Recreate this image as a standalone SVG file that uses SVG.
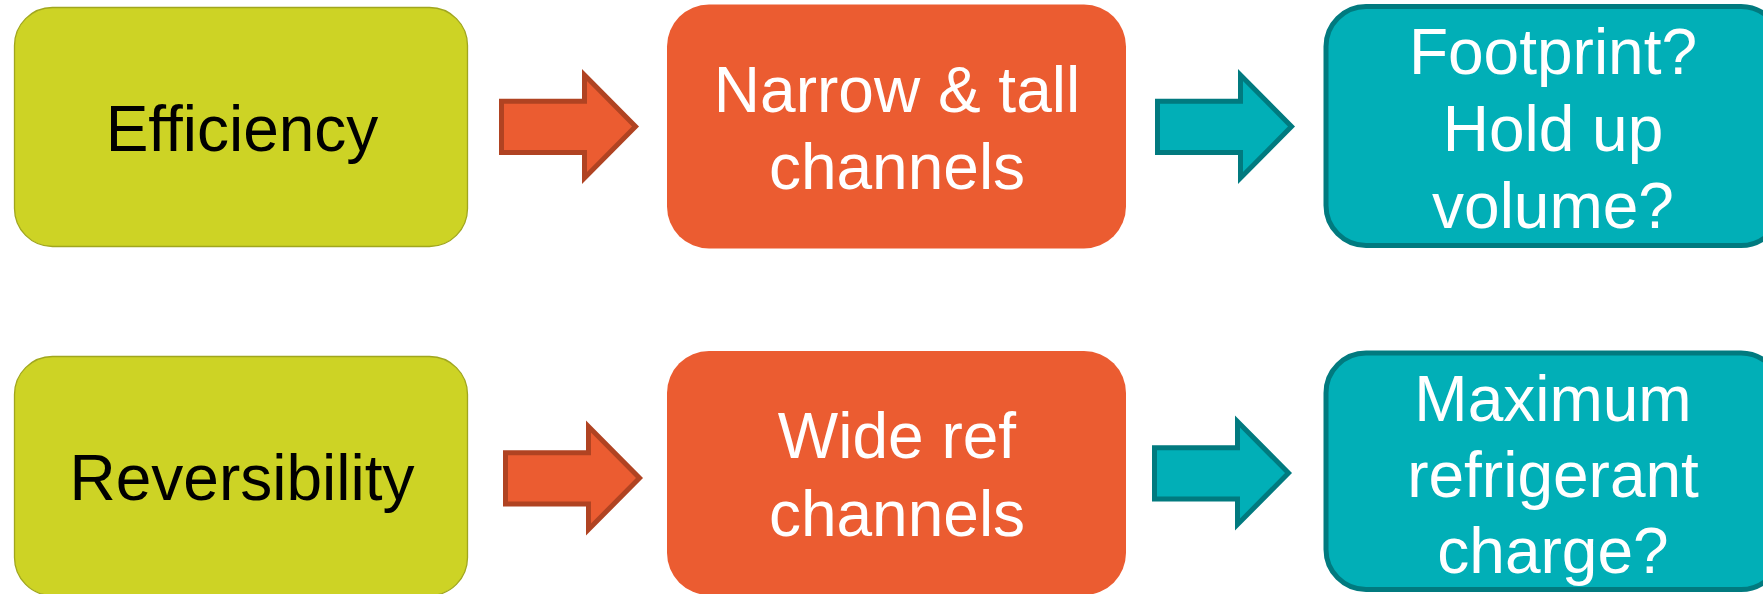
<svg xmlns="http://www.w3.org/2000/svg" width="1763" height="594" viewBox="0 0 1763 594">
<style>
text{font-family:"Liberation Sans",Arial,sans-serif;font-size:64px;text-anchor:middle}
.g{fill:#CDD325;stroke:#A0A61E;stroke-width:1.3}
.o{fill:#EB5C31}
.t{fill:#01AFB7;stroke:#017A7F;stroke-width:5}
.oa{fill:#EB5C31;stroke:#B04322;stroke-width:5;stroke-linejoin:miter}
.ta{fill:#01AFB7;stroke:#017A7F;stroke-width:5;stroke-linejoin:miter}
.dk{fill:#000}
.wt{fill:#fff}
</style>
<rect width="1763" height="594" fill="#fff"/>
<g id="connectors">
<path class="oa" d="M501.5,101.2 H584.5 V75 L635.5,126.5 L584.5,178 V152.5 H501.5 Z"/>
<path class="ta" transform="translate(656,0)" d="M501.5,101.2 H584.5 V75 L635.5,126.5 L584.5,178 V152.5 H501.5 Z"/>
<path class="oa" transform="translate(4,351.5)" d="M501.5,101.2 H584.5 V75 L635.5,126.5 L584.5,178 V152.5 H501.5 Z"/>
<path class="ta" transform="translate(653,346.5)" d="M501.5,101.2 H584.5 V75 L635.5,126.5 L584.5,178 V152.5 H501.5 Z"/>
</g>
<g id="efficiency">
<rect class="g" x="14.5" y="7.5" width="453" height="239" rx="38"/>
<text class="dk" x="242" y="150.5">Efficiency</text>
</g>
<g id="narrow">
<rect class="o" x="667" y="4.5" width="459" height="244" rx="42"/>
<text class="wt" x="897" y="112.3">Narrow &amp; tall</text>
<text class="wt" x="897" y="189">channels</text>
</g>
<g id="footprint">
<rect class="t" x="1326" y="6.5" width="455" height="239" rx="40"/>
<text class="wt" x="1553" y="74">Footprint?</text>
<text class="wt" x="1553" y="150.7">Hold up</text>
<text class="wt" x="1553" y="227.7">volume?</text>
</g>
<g id="reversibility">
<rect class="g" x="14.5" y="356.5" width="453" height="239" rx="38"/>
<text class="dk" x="242" y="499.5">Reversibility</text>
</g>
<g id="wide">
<rect class="o" x="667" y="351" width="459" height="244" rx="42"/>
<text class="wt" x="897" y="458.3">Wide ref</text>
<text class="wt" x="897" y="535.7">channels</text>
</g>
<g id="maximum">
<rect class="t" x="1326" y="353" width="455" height="236.5" rx="40"/>
<text class="wt" x="1553" y="421">Maximum</text>
<text class="wt" x="1553" y="496.7">refrigerant</text>
<text class="wt" x="1553" y="573.3">charge?</text>
</g>
</svg>
